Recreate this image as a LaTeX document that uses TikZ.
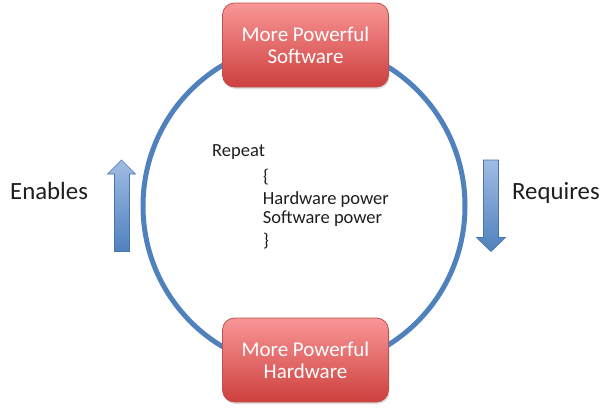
\documentclass[tikz,border=0pt]{standalone}
\usepackage{fontspec}
\setmainfont{Carlito}
\usetikzlibrary{shadows}
\definecolor{ringblue}{RGB}{79,129,189}
\definecolor{arrlight}{RGB}{160,188,228}
\definecolor{arrdark}{RGB}{79,129,189}
\definecolor{arredge}{RGB}{70,115,175}
\definecolor{boxtop}{RGB}{249,150,150}
\definecolor{boxbot}{RGB}{205,64,62}
\definecolor{boxedge}{RGB}{190,80,77}
\definecolor{txt}{RGB}{30,30,30}
\tikzset{
  redbox/.style={rectangle, rounded corners=12pt, draw=boxedge, line width=0.8pt,
    top color=boxtop, bottom color=boxbot, minimum width=166pt, minimum height=84pt,
    text=white, font=\fontsize{21}{22}\selectfont, align=center, inner sep=0pt,
    drop shadow={shadow xshift=1pt, shadow yshift=-2pt, opacity=0.25}},
  sidelabel/.style={font=\fontsize{24.8}{26}\selectfont, text=txt, anchor=base west, inner sep=0pt},
  codeline/.style={font=\fontsize{18.5}{20}\selectfont, text=txt, anchor=base west, inner sep=0pt},
  blockarrow/.style={draw=arredge, line width=0.6pt}
}
\begin{document}
\begin{tikzpicture}[x=1pt, y=-1pt]
\useasboundingbox (0,0) rectangle (606,408);
% ring
\draw[ringblue, line width=5pt] (304,206) ellipse [x radius=161, y radius=163];
% boxes
\node[redbox] (sw) at (305.5,45) {More Powerful\\Software};
\node[redbox] (hw) at (305.5,360) {More Powerful\\Hardware};
% left arrow (up)
\shade[blockarrow, top color=arrlight, bottom color=arrdark]
  (114.5,251.5) -- (114.5,174) -- (107.5,174) -- (121.5,160) -- (135.5,174) -- (129.5,174) -- (129.5,251.5) -- cycle;
% right arrow (down)
\shade[blockarrow, top color=arrlight, bottom color=arrdark]
  (483.5,160) -- (498.5,160) -- (498.5,237.5) -- (505.5,237.5) -- (491,251.5) -- (476.5,237.5) -- (483.5,237.5) -- cycle;
% side labels
\node[sidelabel] (en) at (10,199.3) {Enables};
\node[sidelabel] (rq) at (512,199.3) {Requires};
% code text
\node[codeline] (c1) at (212,156.7) {Repeat};
\node[codeline] (c2) at (263,182) {\{};
\node[codeline] (c3) at (262.7,204.3) {Hardware power};
\node[codeline] (c4) at (262.7,223.5) {Software power};
\node[codeline] (c5) at (263,246) {\}};
\end{tikzpicture}
\end{document}
